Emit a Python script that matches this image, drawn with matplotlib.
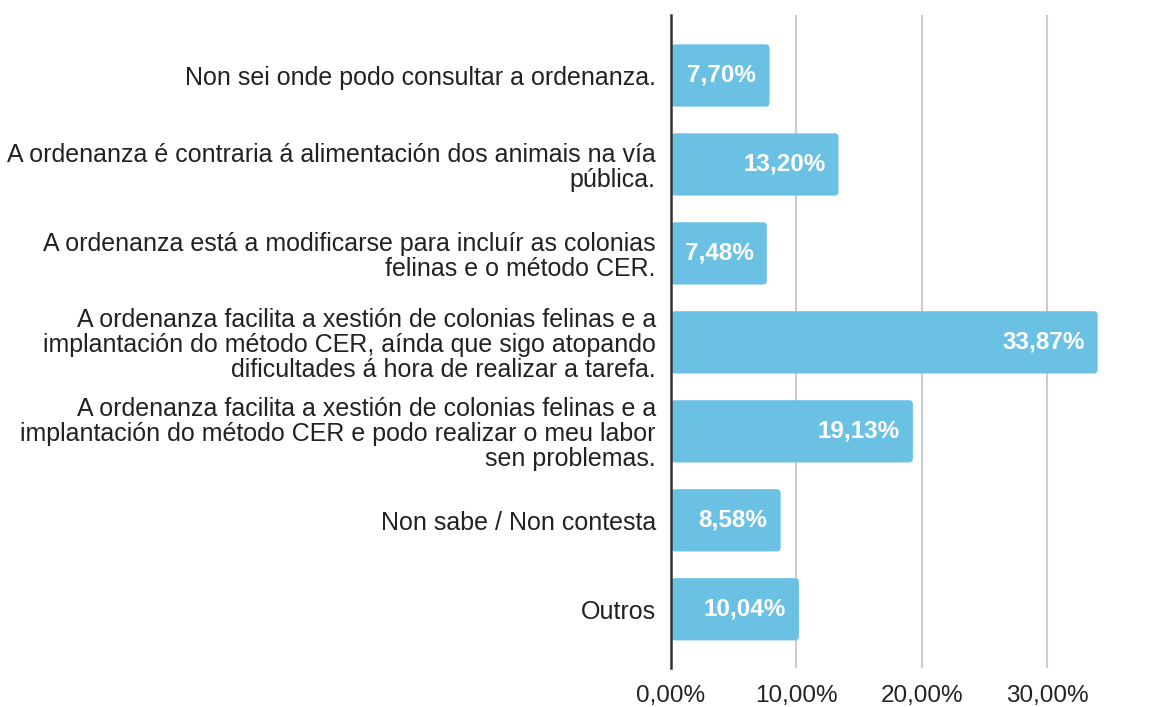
import matplotlib
matplotlib.use("Agg")
import matplotlib.pyplot as plt
from matplotlib.patches import FancyBboxPatch
from matplotlib.ticker import FuncFormatter

categories = [
    "Non sei onde podo consultar a ordenanza.",
    "A ordenanza é contraria á alimentación dos animais na vía\npública.",
    "A ordenanza está a modificarse para incluír as colonias\nfelinas e o método CER.",
    "A ordenanza facilita a xestión de colonias felinas e a\nimplantación do método CER, aínda que sigo atopando\ndificultades á hora de realizar a tarefa.",
    "A ordenanza facilita a xestión de colonias felinas e a\nimplantación do método CER e podo realizar o meu labor\nsen problemas.",
    "Non sabe / Non contesta",
    "Outros",
]
values = [7.70, 13.20, 7.48, 33.87, 19.13, 8.58, 10.04]
xticks = [0, 10, 20, 30]

BAR = "#6bc1e4"
plt.rcParams["font.family"] = ["Liberation Sans", "DejaVu Sans"]

fig = plt.figure(figsize=(11.59, 7.07), dpi=100)
ax = fig.add_axes([0.579, 0.0552, 0.384, 0.9236])

ypos = list(range(len(values)))
bars = ax.barh(ypos, values, height=0.7, color=BAR)

ax.set_xlim(0, 35.5)
ax.set_ylim(len(values) - 1 + 0.66, -0.68)

# swap plain rectangles for ones with slightly rounded corners
xpx = 1 / 12.53
ypx = 1 / 89.0
for r in bars.patches:
    r.set_visible(False)
    fb = FancyBboxPatch((r.get_x(), r.get_y()), r.get_width() + 2 * xpx, r.get_height(),
                        boxstyle="round,pad=0,rounding_size=%f" % (4 * xpx),
                        mutation_aspect=ypx / xpx, facecolor=BAR,
                        edgecolor="none", zorder=2)
    ax.add_patch(fb)

for y, v in zip(ypos, values):
    ax.text(v - 0.9, y, f"{v:.2f}%".replace(".", ","), ha="right", va="center",
            color="white", fontsize=17.5, fontweight="bold", zorder=3)

ax.set_yticks(ypos)
ax.set_yticklabels(categories, fontsize=18, color="#222222", linespacing=1.05)
ax.set_xticks(xticks)
ax.xaxis.set_major_formatter(FuncFormatter(lambda x, _: f"{x:.2f}%".replace(".", ",")))
ax.tick_params(axis="x", labelsize=17.5, labelcolor="#222222", length=0, pad=12)
ax.tick_params(axis="y", length=0, pad=11)

ax.grid(axis="x", color="#cccccc", linewidth=1.5, zorder=0)
ax.set_axisbelow(True)
for s in ["top", "right", "bottom"]:
    ax.spines[s].set_visible(False)
ax.spines["left"].set_color("#333333")
ax.spines["left"].set_linewidth(1.8)
ax.spines["left"].set_zorder(4)

fig.savefig("out.png", dpi=100)
